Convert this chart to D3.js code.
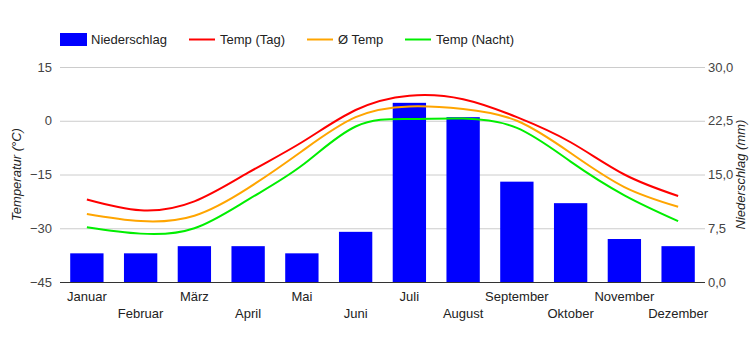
<!DOCTYPE html>
<html lang="de"><head><meta charset="UTF-8">
<script src="https://d3js.org/d3.v7.min.js"></script>
<style>
  body { margin: 0; background: #fff; }
  svg { font-family: "Liberation Sans", Arial, sans-serif; }
</style>
</head>
<body>
<div id="chart"></div>
<script>
// data
var months = ["Januar", "Februar", "März", "April", "Mai", "Juni", "Juli", "August", "September", "Oktober", "November", "Dezember"];
var niederschlag = [4, 4, 5, 5, 4, 7, 25, 23, 14, 11, 6, 5];
var tempTag = [-22, -25, -22.5, -14.5, -6, 3, 7, 6, 1, -6, -15, -21];
var tempMittel = [-26, -28, -26.5, -18.8, -8.5, 1, 4, 3.3, 0, -9, -18.5, -24];
var tempNacht = [-29.7, -31.5, -30, -22, -12.5, -1.6, 0.5, 0.6, -2, -11.4, -20.8, -28];
var tempTicks = [-45, -30, -15, 0, 15];
var mmTicks = [0, 7.5, 15, 22.5, 30];

var W = 750, H = 350;
var plotL = 60, plotR = 705, plotT = 67, plotB = 282;

var svg = d3.select("#chart").append("svg")
  .attr("width", W).attr("height", H);

var x = d3.scaleBand().domain(months).range([plotL, plotR]).paddingInner(0.38).paddingOuter(0.19);
var xc = function(i) { return x(months[i]) + x.bandwidth() / 2; };
var yT = d3.scaleLinear().domain([-45, 15]).range([plotB, plotT]);
var yN = d3.scaleLinear().domain([0, 30]).range([plotB, plotT]);

// grid
svg.append("g").selectAll("line").data(tempTicks.slice(1)).enter().append("line")
  .attr("x1", plotL).attr("x2", plotR)
  .attr("y1", function(d) { return yT(d) + 0.5; }).attr("y2", function(d) { return yT(d) + 0.5; })
  .attr("stroke", "#cccccc").attr("stroke-width", 1);

// left axis
var axL = svg.append("g").attr("transform", "translate(" + plotL + ",0)")
  .call(d3.axisLeft(yT).tickValues(tempTicks).tickSize(0).tickPadding(8));
axL.select(".domain").remove();
axL.selectAll("text").attr("font-size", 13).attr("fill", "#444").attr("font-family", null);

// right axis
var axR = svg.append("g").attr("transform", "translate(" + plotR + ",0)")
  .call(d3.axisRight(yN).tickValues(mmTicks).tickSize(0).tickPadding(3)
    .tickFormat(function(d) { return d3.format(".1f")(d).replace(".", ","); }));
axR.select(".domain").remove();
axR.selectAll("text").attr("font-size", 13).attr("fill", "#444").attr("font-family", null);

// bars
svg.append("g").selectAll("rect").data(niederschlag).enter().append("rect")
  .attr("x", function(d, i) { return x(months[i]); })
  .attr("width", x.bandwidth())
  .attr("y", function(d) { return yN(d); })
  .attr("height", function(d) { return yN(0) - yN(d); })
  .attr("fill", "#0000ff");

// baseline
svg.append("line").attr("x1", plotL).attr("x2", plotR)
  .attr("y1", plotB + 0.5).attr("y2", plotB + 0.5)
  .attr("stroke", "#333").attr("stroke-width", 1);

// lines
var line = d3.line()
  .x(function(d, i) { return xc(i); })
  .y(function(d) { return yT(d); })
  .curve(d3.curveNatural);

var series = [
  { name: "Temp (Tag)", values: tempTag, color: "#ff0000" },
  { name: "Ø Temp", values: tempMittel, color: "#ffa500" },
  { name: "Temp (Nacht)", values: tempNacht, color: "#00ee00" }
];
series.forEach(function(s) {
  svg.append("path").datum(s.values).attr("d", line)
    .attr("fill", "none").attr("stroke", s.color).attr("stroke-width", 2);
});

// x labels, two rows
svg.append("g").selectAll("text").data(months).enter().append("text")
  .attr("x", function(d, i) { return xc(i); })
  .attr("y", function(d, i) { return i % 2 == 0 ? 301 : 318; })
  .attr("text-anchor", "middle")
  .attr("font-size", 13).attr("fill", "#222")
  .text(function(d) { return d; });

// axis titles
svg.append("text")
  .attr("transform", "translate(21," + ((plotT + plotB) / 2) + ") rotate(-90)")
  .attr("text-anchor", "middle").attr("font-size", 13).attr("font-style", "italic").attr("fill", "#222")
  .text("Temperatur (°C)");
svg.append("text")
  .attr("transform", "translate(745," + ((plotT + plotB) / 2) + ") rotate(-90)")
  .attr("text-anchor", "middle").attr("font-size", 13).attr("font-style", "italic").attr("fill", "#222")
  .text("Niederschlag (mm)");

// legend
var lg = svg.append("g");
lg.append("rect").attr("x", 60).attr("y", 33).attr("width", 27).attr("height", 13).attr("fill", "#0000ff");
lg.append("text").attr("x", 91).attr("y", 44).attr("font-size", 13).attr("fill", "#222").text("Niederschlag");
var legX = [189, 307, 405];
series.forEach(function(s, i) {
  lg.append("line").attr("x1", legX[i]).attr("x2", legX[i] + 26).attr("y1", 39.5).attr("y2", 39.5)
    .attr("stroke", s.color).attr("stroke-width", 2);
  lg.append("text").attr("x", legX[i] + 31).attr("y", 44).attr("font-size", 13).attr("fill", "#222").text(s.name);
});
</script>
</body>
</html>
